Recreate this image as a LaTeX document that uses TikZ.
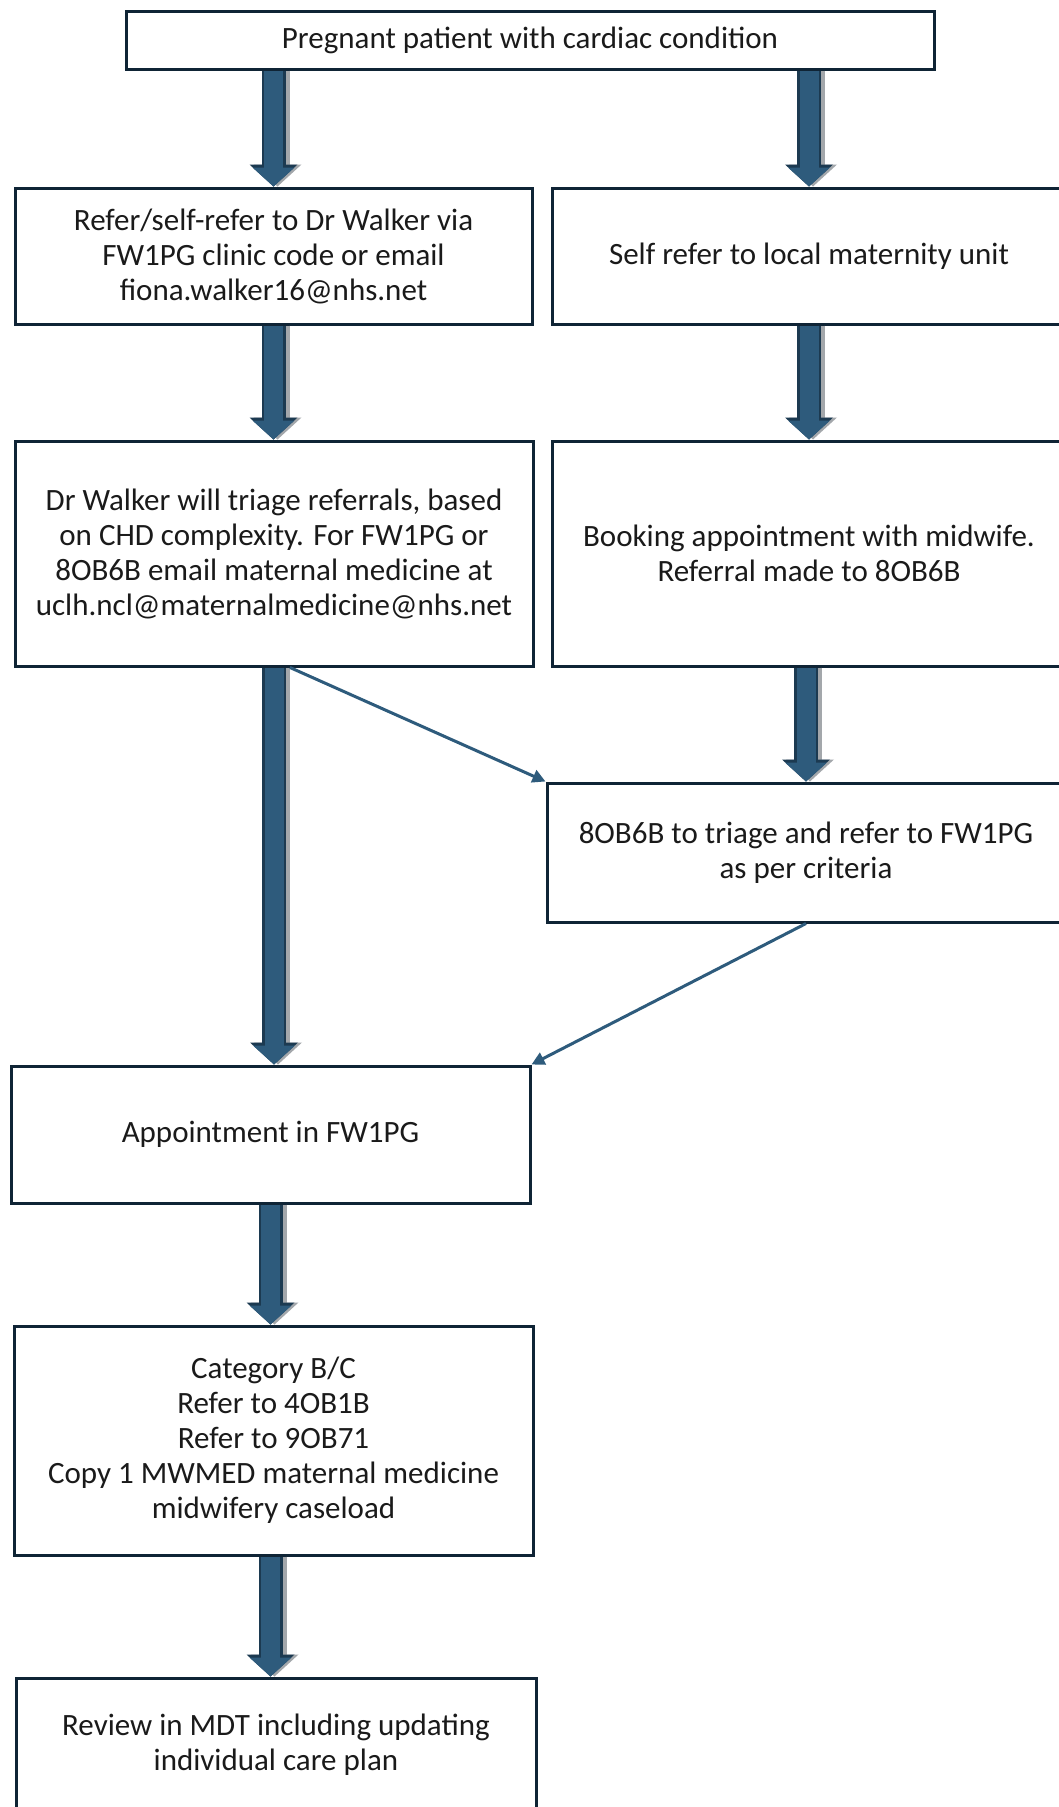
\documentclass[tikz,border=0pt]{standalone}
\usepackage{fontspec}
\setmainfont{Carlito}
\usetikzlibrary{arrows.meta,calc}

\definecolor{boxline}{HTML}{0F2435}
\definecolor{flowblue}{HTML}{2E5B7C}
\definecolor{flowdark}{HTML}{1C3A51}
\definecolor{flowshade}{HTML}{A3A7AB}
\definecolor{inktext}{HTML}{1A1A1A}

\begin{document}
\begin{tikzpicture}[x=1pt,y=-1pt,
  box/.style={draw=boxline, line width=3pt, fill=white, rectangle,
    align=center, inner sep=0pt, text=inktext,
    font=\fontsize{31}{35}\selectfont},
  bigflow/.style={draw=flowblue, line width=19pt,
    -{Triangle[width=42pt,length=19pt,line width=0pt]},
    preaction={draw=flowshade, line width=24pt, transform canvas={xshift=4pt},
      -{Triangle[width=48pt,length=22pt,line width=0pt]}},
    preaction={draw=flowdark, line width=24pt,
      -{Triangle[width=48pt,length=22pt,line width=0pt]}}},
  thinflow/.style={draw=flowblue, line width=3pt,
    -{Triangle[width=13pt,length=13pt]}}
]
\useasboundingbox (0,0) rectangle (1059,1807);
\clip (0,0) rectangle (1059,1807);
\fill[white] (0,0) rectangle (1059,1807);

% boxes of the referral pathway
\node[box, minimum width=808pt, minimum height=58pt] (B1) at (530,40)
  {Pregnant patient with cardiac condition};
\node[box, minimum width=517pt, minimum height=136pt] (B2L) at (273.5,256)
  {Refer/self-refer to Dr Walker via\\FW1PG clinic code or email\\fiona.walker16@nhs.net};
\node[box, minimum width=514pt, minimum height=136pt] (B2R) at (809,256)
  {Self refer to local maternity unit};
\node[box, minimum width=518pt, minimum height=225pt] (B3L) at (274,553.5)
  {Dr Walker will triage referrals, based\\on CHD complexity. For FW1PG or\\8OB6B email maternal medicine at\\uclh.ncl@maternalmedicine@nhs.net};
\node[box, minimum width=514pt, minimum height=225pt] (B3R) at (809,553.5)
  {Booking appointment with midwife.\\Referral made to 8OB6B};
\node[box, minimum width=518pt, minimum height=139pt] (B4R) at (806,852.5)
  {8OB6B to triage and refer to FW1PG\\as per criteria};
\node[box, minimum width=519pt, minimum height=137pt] (B5) at (270.5,1134.5)
  {Appointment in FW1PG};
\node[box, minimum width=519pt, minimum height=229pt] (B6) at (273.5,1440.5)
  {Category B/C\\Refer to 4OB1B\\Refer to 9OB71\\Copy 1 MWMED maternal medicine\\midwifery caseload};
\node[box, minimum width=520pt, minimum height=134pt] (B7) at (276,1745)
  {Review in MDT including updating\\individual care plan};

% block arrows
\draw[bigflow] (B1.south -| B2L.north) -- (B2L.north);
\draw[bigflow] (B1.south -| B2R.north) -- (B2R.north);
\draw[bigflow] (B2L.south) -- (B2L.south |- B3L.north);
\draw[bigflow] (B2R.south) -- (B2R.south |- B3R.north);
\draw[bigflow] (B3L.south) -- (B3L.south |- B5.north);
\draw[bigflow] (B4R.north |- B3R.south) -- (B4R.north);
\draw[bigflow] (B5.south) -- (B5.south |- B6.north);
\draw[bigflow] ([xshift=-3pt]B6.south) -- ([xshift=-3pt]B6.south |- B7.north);

% thin cross arrows
\draw[thinflow] ([xshift=16pt]B3L.south) -- (B4R.north west);
\draw[thinflow] (B4R.south) -- (B5.north east);
\end{tikzpicture}
\end{document}
